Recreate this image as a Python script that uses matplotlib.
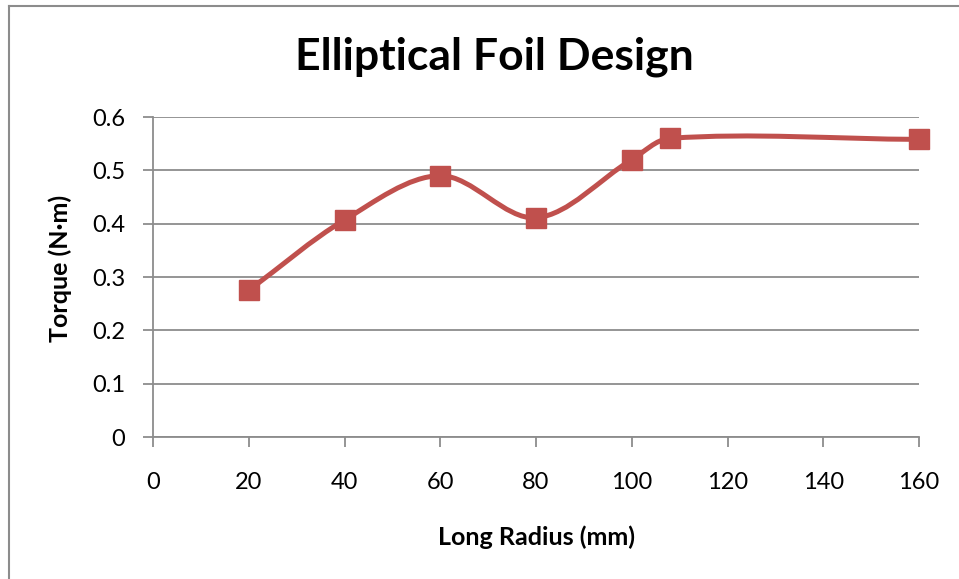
import matplotlib
matplotlib.use("Agg")
import matplotlib.pyplot as plt
from matplotlib.path import Path
from matplotlib.patches import PathPatch
from matplotlib.lines import Line2D

# long radius (mm) vs torque (N·m)
radius = [20, 40, 60, 80, 100, 108, 160]
torque = [0.275, 0.407, 0.490, 0.411, 0.520, 0.560, 0.558]

x_ticks = [0, 20, 40, 60, 80, 100, 120, 140, 160]
y_ticks = [0, 0.1, 0.2, 0.3, 0.4, 0.5, 0.6]
y_labels = ["0", "0.1", "0.2", "0.3", "0.4", "0.5", "0.6"]

RED = "#C0504D"
GRID = "#8C8C8C"
FONT = "Lato"

W, H = 959, 579
AX_L, AX_R, AX_T, AX_B = 153, 919, 117, 437


def smooth_path(xs, ys, sx, sy):
    # cubic bezier through every point; handle lengths follow the
    # neighbouring segment lengths (measured in pixels) so short
    # segments don't overshoot
    pts = list(zip(xs, ys))
    n = len(pts)

    def dist(a, b):
        return (((b[0] - a[0]) * sx) ** 2 + ((b[1] - a[1]) * sy) ** 2) ** 0.5

    verts = [pts[0]]
    codes = [Path.MOVETO]
    for i in range(n - 1):
        p0 = pts[i - 1] if i > 0 else pts[i]
        p1 = pts[i]
        p2 = pts[i + 1]
        p3 = pts[i + 2] if i + 2 < n else pts[i + 1]
        d01, d12, d23 = dist(p0, p1), dist(p1, p2), dist(p2, p3)
        k1 = d12 / (3 * (d01 + d12))
        k2 = d12 / (3 * (d12 + d23))
        c1 = (p1[0] + (p2[0] - p0[0]) * k1, p1[1] + (p2[1] - p0[1]) * k1)
        c2 = (p2[0] - (p3[0] - p1[0]) * k2, p2[1] - (p3[1] - p1[1]) * k2)
        verts += [c1, c2, p2]
        codes += [Path.CURVE4] * 3
    return Path(verts, codes)


fig = plt.figure(figsize=(9.59, 5.79), dpi=100)
ax = fig.add_axes([AX_L / W, 1 - AX_B / H, (AX_R - AX_L) / W, (AX_B - AX_T) / H])

ax.set_xlim(0, 160)
ax.set_ylim(0, 0.6)
ax.set_xticks(x_ticks)
ax.set_yticks(y_ticks)
ax.set_yticklabels(y_labels)

ax.grid(axis="y", color=GRID, linewidth=1.3)
ax.set_axisbelow(True)
for s in ["top", "right"]:
    ax.spines[s].set_visible(False)
for s in ["left", "bottom"]:
    ax.spines[s].set_color(GRID)
    ax.spines[s].set_linewidth(1.3)
ax.tick_params(axis="both", direction="out", length=7, width=1.3, color=GRID,
               labelsize=17)
ax.tick_params(axis="y", pad=13)
ax.tick_params(axis="x", pad=18)
for lbl in ax.get_xticklabels() + ax.get_yticklabels():
    lbl.set_fontfamily(FONT)

sx = (AX_R - AX_L) / 160
sy = (AX_B - AX_T) / 0.6
curve = PathPatch(smooth_path(radius, torque, sx, sy), facecolor="none",
                  edgecolor=RED, linewidth=3.6, capstyle="round",
                  joinstyle="round", zorder=3)
ax.add_patch(curve)
ax.plot(radius, torque, linestyle="none", marker="s", markersize=14,
        color=RED, markeredgecolor=RED, zorder=4, clip_on=False)

fig.text(536 / W, 1 - 537 / H, "Long Radius (mm)", fontfamily=FONT,
         fontweight="bold", fontsize=18, ha="center", va="center")
fig.text(60 / W, 1 - 268 / H, "Torque (N·m)", fontfamily=FONT,
         fontweight="bold", fontsize=18, ha="center", va="center",
         rotation=90)
fig.text(494 / W, 1 - 57 / H, "Elliptical Foil Design", fontfamily=FONT,
         fontweight="bold", fontsize=32, ha="center", va="center")

# chart frame edges
fig.add_artist(Line2D([9 / W, 9 / W], [0, 1 - 6 / H], transform=fig.transFigure,
                      color=GRID, linewidth=1.5))
fig.add_artist(Line2D([9 / W, 1], [1 - 6 / H, 1 - 6 / H], transform=fig.transFigure,
                      color=GRID, linewidth=1.5))

fig.savefig("out.png", dpi=100)
